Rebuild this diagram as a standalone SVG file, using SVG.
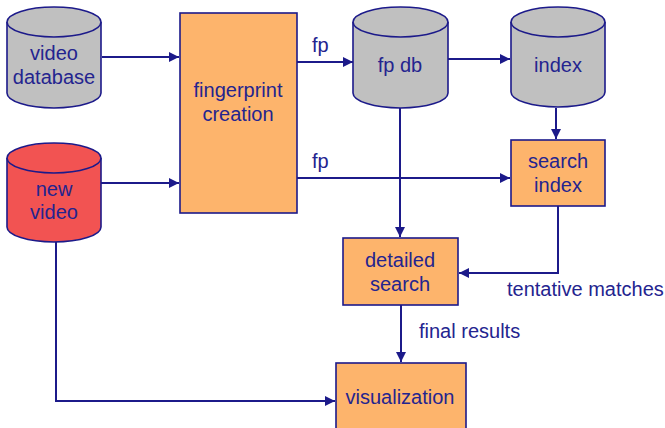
<svg xmlns="http://www.w3.org/2000/svg" width="665" height="428" viewBox="0 0 665 428">
  <defs>
    <marker id="arrow" viewBox="0 0 10 10" refX="10" refY="5" markerWidth="10" markerHeight="10" markerUnits="userSpaceOnUse" orient="auto">
      <path d="M0,0 L10,5 L0,10 z" fill="#1c1a8a"/>
    </marker>
    <style>
      .shape { stroke: #1c1a8a; stroke-width: 1.6; }
      .grey { fill: #c0c0c0; }
      .orange { fill: #fdb46c; }
      .red { fill: #f25352; }
      .edge { fill: none; stroke: #1c1a8a; stroke-width: 2; }
      text { font-family: "Liberation Sans", Arial, sans-serif; font-size: 20px; fill: #24248f; text-anchor: middle; }
      .lbl { text-anchor: start; }
    </style>
  </defs>
  <rect width="665" height="428" fill="#ffffff"/>

  <!-- connectors -->
  <g id="connectors">
    <path class="edge" d="M102,57 H179" marker-end="url(#arrow)"/>
    <path class="edge" d="M101,183 H179" marker-end="url(#arrow)"/>
    <path class="edge" d="M297,62 H353" marker-end="url(#arrow)"/>
    <path class="edge" d="M297,178 H510" marker-end="url(#arrow)"/>
    <path class="edge" d="M448,59 H510" marker-end="url(#arrow)"/>
    <path class="edge" d="M556,108 V139" marker-end="url(#arrow)"/>
    <path class="edge" d="M400,108 V237" marker-end="url(#arrow)"/>
    <path class="edge" d="M558,206 V273 H459" marker-end="url(#arrow)"/>
    <path class="edge" d="M401,305 V362" marker-end="url(#arrow)"/>
    <path class="edge" d="M56,242 V401 H335" marker-end="url(#arrow)"/>
    <text class="lbl" x="312" y="52">fp</text>
    <text class="lbl" x="312" y="168">fp</text>
    <text class="lbl" x="507" y="296">tentative matches</text>
    <text class="lbl" x="419" y="338">final results</text>
  </g>

  <!-- video database -->
  <g id="video-database">
    <path class="shape grey" d="M7,22 V93 A47,15 0 0 0 101,93 V22"/>
    <ellipse class="shape grey" cx="54" cy="22" rx="47" ry="15"/>
    <text x="54" y="60">video</text>
    <text x="54" y="84">database</text>
  </g>

  <!-- new video -->
  <g id="new-video">
    <path class="shape red" d="M7,158 V227 A47,15 0 0 0 101,227 V158"/>
    <ellipse class="shape red" cx="54" cy="158" rx="47" ry="15"/>
    <text x="54" y="196">new</text>
    <text x="54" y="219">video</text>
  </g>

  <!-- fingerprint creation -->
  <g id="fingerprint-creation">
    <rect class="shape orange" x="180" y="13" width="117" height="200"/>
    <text x="238" y="97">fingerprint</text>
    <text x="238" y="121">creation</text>
  </g>

  <!-- fp db -->
  <g id="fp-db">
    <path class="shape grey" d="M353,22 V93 A47.5,15 0 0 0 448,93 V22"/>
    <ellipse class="shape grey" cx="400.5" cy="22" rx="47.5" ry="15"/>
    <text x="400" y="72">fp db</text>
  </g>

  <!-- index -->
  <g id="index">
    <path class="shape grey" d="M511,22 V92 A47,15 0 0 0 605,92 V22"/>
    <ellipse class="shape grey" cx="558" cy="22" rx="47" ry="15"/>
    <text x="558" y="72">index</text>
  </g>

  <!-- search index -->
  <g id="search-index">
    <rect class="shape orange" x="511" y="140" width="94" height="66"/>
    <text x="558" y="168">search</text>
    <text x="558" y="192">index</text>
  </g>

  <!-- detailed search -->
  <g id="detailed-search">
    <rect class="shape orange" x="343" y="238" width="115" height="67"/>
    <text x="400" y="267">detailed</text>
    <text x="400" y="291">search</text>
  </g>

  <!-- visualization -->
  <g id="visualization">
    <rect class="shape orange" x="336" y="363" width="130" height="70"/>
    <text x="400" y="404">visualization</text>
  </g>
</svg>
